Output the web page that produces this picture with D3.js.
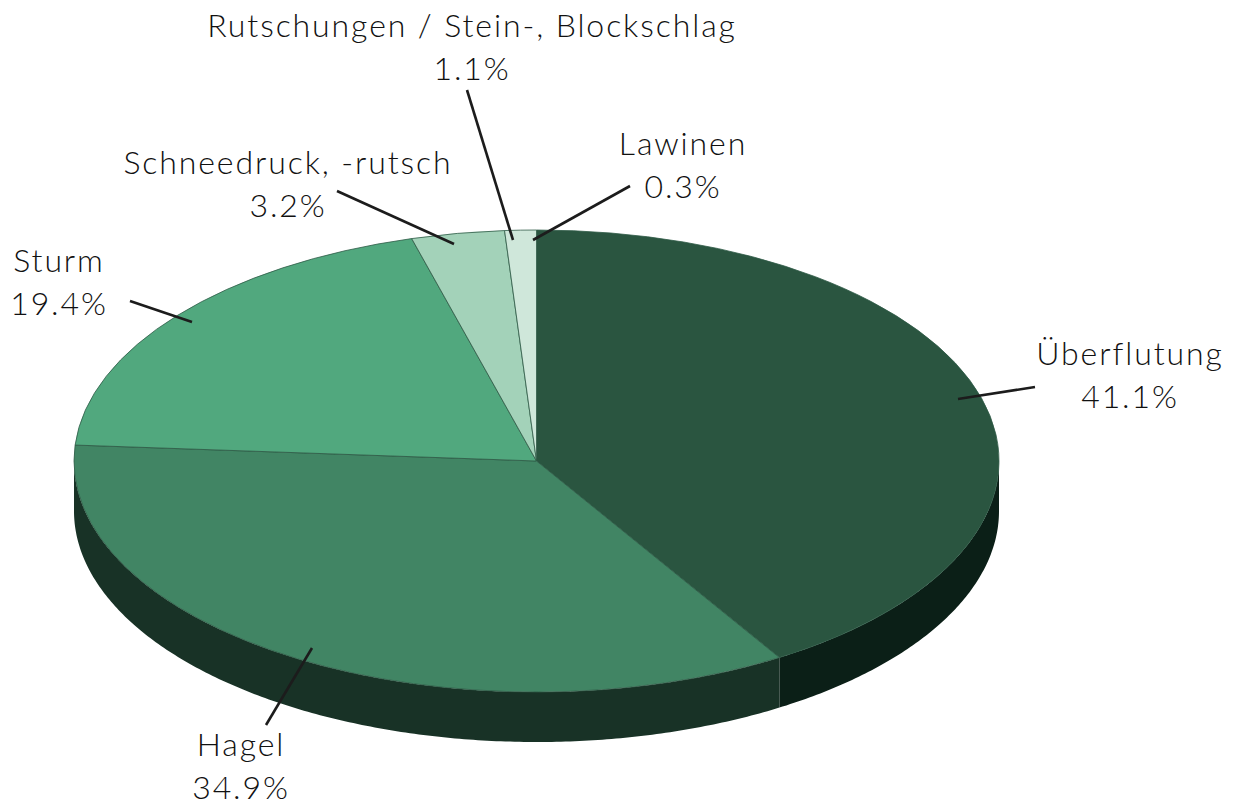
<!DOCTYPE html>
<html>
<head>
<meta charset="utf-8">
<script src="https://cdn.jsdelivr.net/npm/d3@7"></script>
<style>
  body { margin: 0; background: #fff; }
  text { font-family: Lato, "Open Sans", sans-serif; font-weight: 300; font-size: 32px; letter-spacing: 1.9px; fill: #111; text-anchor: middle; }
</style>
</head>
<body>
<svg id="chart" width="1238" height="802"></svg>
<script>
// Labels and printed percentages
const categories = ["Überflutung", "Hagel", "Sturm", "Schneedruck, -rutsch", "Rutschungen / Stein-, Blockschlag", "Lawinen"];
const percentLabels = ["41.1%", "34.9%", "19.4%", "3.2%", "1.1%", "0.3%"];
// Slice sizes as they are drawn in the picture (the last slice is not really visible)
const sliceShares = [41.2, 34.9, 19.55, 3.25, 1.1, 0];
const topColors = ["#2a5540", "#418564", "#51a87e", "#a3d2b9", "#cfe7da", "#cfe7da"];
const sideColors = ["#0b1f17", "#183226", "#204a36", "#4a6b5a", "#5a7a6a", "#5a7a6a"];

// Label placement: text centre x, first baseline y, leader from pie to text
const labelX = [1130, 241, 59, 288, 472, 683];
const labelY = [365, 756, 272, 174, 37, 155];
const leaderInner = [[958, 399], [312, 648], [192, 322], [454, 244], [513, 240], [533, 240]];
const leaderOuter = [[1035, 387], [266, 725], [130, 301], [337, 191], [467, 90], [630, 186]];

const svg = d3.select("#chart");
const cx = 536.5, cy = 461, rx = 462.5, ry = 231, depth = 50;

const pie = d3.pie().sort(null).value(d => d).startAngle(0).endAngle(2 * Math.PI);
const arcs = pie(sliceShares);

// Point on the top ellipse for a pie angle (0 = up, clockwise)
const px = a => cx + rx * Math.sin(a);
const py = a => cy - ry * Math.cos(a);

// Side wall of one slice, only the part facing the viewer
function wallPath(a0, a1) {
    const from = Math.max(a0, Math.PI / 2);
    const to = Math.min(a1, 3 * Math.PI / 2);
    if (to <= from) return null;
    const angles = d3.range(from, to, 0.01).concat([to]);
    const upper = angles.map(a => [px(a), py(a)]);
    const lower = angles.slice().reverse().map(a => [px(a), py(a) + depth]);
    return d3.line()(upper.concat(lower)) + "Z";
}

const walls = svg.append("g");
arcs.forEach((d, i) => {
    const p = wallPath(d.startAngle, d.endAngle);
    if (p) walls.append("path").attr("d", p).attr("fill", sideColors[i]);
});

// Top face: a round pie squashed into an ellipse
const arc = d3.arc().innerRadius(0).outerRadius(rx);
svg.append("g")
    .attr("transform", `translate(${cx},${cy}) scale(1,${ry / rx})`)
    .selectAll("path")
    .data(arcs.filter(d => d.value > 0))
    .enter().append("path")
    .attr("d", arc)
    .attr("fill", (d, i) => topColors[i])
    .attr("stroke", "#2f5a46")
    .attr("stroke-width", 0.8)
    .attr("vector-effect", "non-scaling-stroke");

// Leader lines
svg.append("g").selectAll("line")
    .data(categories)
    .enter().append("line")
    .attr("x1", (d, i) => leaderInner[i][0])
    .attr("y1", (d, i) => leaderInner[i][1])
    .attr("x2", (d, i) => leaderOuter[i][0])
    .attr("y2", (d, i) => leaderOuter[i][1])
    .attr("stroke", "#1c1c1c")
    .attr("stroke-width", 2.6);

// Two line labels
const labels = svg.append("g").selectAll("text")
    .data(categories)
    .enter().append("text")
    .attr("x", (d, i) => labelX[i])
    .attr("y", (d, i) => labelY[i]);
labels.append("tspan").text(d => d);
labels.append("tspan")
    .attr("x", (d, i) => labelX[i])
    .attr("dy", 43)
    .text((d, i) => percentLabels[i]);
</script>
</body>
</html>
